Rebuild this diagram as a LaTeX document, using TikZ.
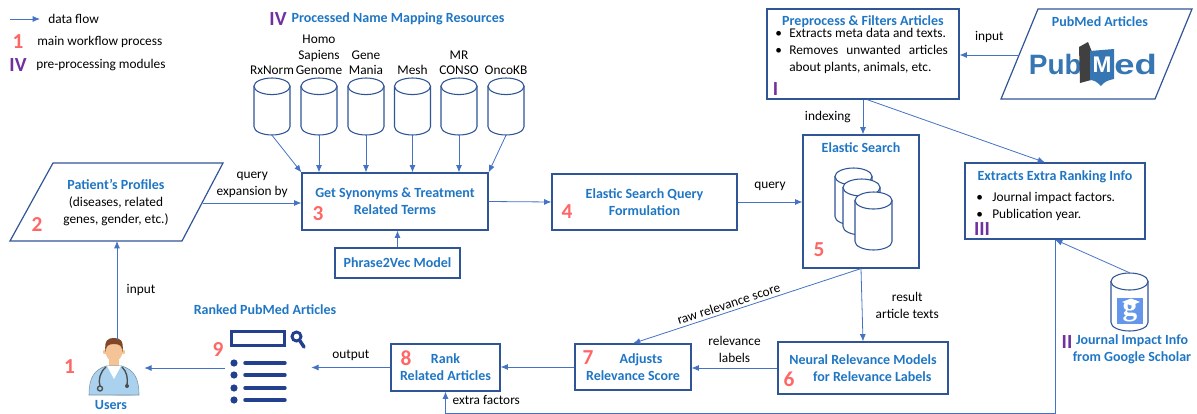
\documentclass[tikz,border=0pt]{standalone}
\usepackage{fontspec}
\setmainfont{Carlito}
\newfontfamily\logofont{Liberation Sans}
\newfontfamily\gsfont{Liberation Serif}
\usetikzlibrary{positioning,arrows.meta,calc}

\definecolor{boxblue}{RGB}{47,85,151}
\definecolor{flowblue}{RGB}{68,114,196}
\definecolor{titleblue}{RGB}{31,118,196}
\definecolor{numred}{RGB}{255,102,102}
\definecolor{modpurple}{RGB}{112,48,160}
\definecolor{pubblue}{RGB}{54,118,178}
\definecolor{iconnavy}{RGB}{35,64,142}
\definecolor{coatblue}{RGB}{170,210,238}
\definecolor{skin}{RGB}{244,196,150}
\definecolor{hair}{RGB}{130,70,40}
\definecolor{gsblue}{RGB}{100,150,235}

\newcommand{\ttlfont}{\fontsize{10.5}{12.75}\selectfont\bfseries\color{titleblue}}
\newcommand{\bul}[1]{\makebox[#1][l]{\textbullet}}
% database cylinder: name, x, y, width, height (in picture units)
\newcommand{\dbcyl}[5]{%
    \pgfmathsetmacro{\cylrx}{#4/2}%
    \pgfmathsetmacro{\cylh}{#5/2}%
    \pgfmathsetmacro{\cylry}{#4*0.23}%
    \pgfmathsetmacro{\cylrxp}{0.375*#4}%
    \pgfmathsetmacro{\cylryp}{0.75*#4*0.23}%
    \filldraw[db] (#2-\cylrx,#3-\cylh+\cylry) -- (#2-\cylrx,#3+\cylh-\cylry)
        arc[start angle=180, end angle=360, x radius=\cylrxp pt, y radius=\cylryp pt]
        -- (#2+\cylrx,#3-\cylh+\cylry) -- cycle;
    \filldraw[db] (#2,#3-\cylh+\cylry) ellipse [x radius=\cylrxp pt, y radius=\cylryp pt];
    \node[minimum width=0.75*#4 pt, minimum height=0.75*#5 pt, inner sep=0pt] (#1) at (#2,#3) {};
}

\begin{document}
\begin{tikzpicture}[x=0.75pt, y=-0.75pt, >={Latex[length=5.5pt,width=4.5pt]},
    box/.style = {draw=boxblue, line width=0.9pt, inner sep=0pt, align=center, font=\ttlfont},
    ttl/.style = {font=\ttlfont, align=center, inner sep=0pt},
    txt/.style = {font=\fontsize{10}{12.75}\selectfont, align=center, inner sep=0pt},
    lbl/.style = {font=\fontsize{10}{11.6}\selectfont, align=center, inner sep=0pt},
    num/.style = {font=\fontsize{16}{16}\selectfont\bfseries, text=numred, inner sep=0pt},
    mod/.style = {font=\fontsize{15}{15}\selectfont\bfseries, text=modpurple, inner sep=0pt},
    db/.style = {draw=boxblue, line width=0.8pt, fill=white},
    flow/.style = {->, draw=flowblue, line width=0.6pt}]
    \useasboundingbox (0,0) rectangle (1197,414);

    % legend
    \coordinate (lg-a) at (10,19);
    \node[txt, anchor=west, inner xsep=6pt] (lg-t) at (40,19) {data flow};
    \draw[flow] (lg-a) -- (lg-t.west);
    \node[num] (lg-1) at (18,42) {1};
    \node[txt, anchor=west] (lg-2) at (37,42) {main workflow process};
    \node[mod] (lg-3) at (18,65) {IV};
    \node[txt, anchor=west] (lg-4) at (36,65) {pre-processing modules};

    % name mapping resources
    \node[mod] (m-iv) at (278,19) {IV};
    \node[ttl] (m-t) at (398,19) {Processed Name Mapping Resources};
    \dbcyl{rx}{272}{106.5}{36}{57}
    \dbcyl{hsg}{319}{106.5}{36}{57}
    \dbcyl{gm}{366}{106.5}{36}{57}
    \dbcyl{mesh}{412.5}{106.5}{36}{57}
    \dbcyl{mrc}{459}{106.5}{36}{57}
    \dbcyl{onc}{506}{106.5}{36}{57}
    \node[lbl, above=2pt of rx] (rx-l) {RxNorm};
    \node[lbl, above=2pt of hsg] (hsg-l) {Homo\\Sapiens\\Genome};
    \node[lbl, above=2pt of gm] (gm-l) {Gene\\Mania};
    \node[lbl, above=2pt of mesh] (mesh-l) {Mesh};
    \node[lbl, above=2pt of mrc] (mrc-l) {MR\\CONSO};
    \node[lbl, above=2pt of onc] (onc-l) {OncoKB};

    % main boxes
    \node[box, minimum width=139.5pt, minimum height=42.75pt] (syn) at (395,201.5) {Get Synonyms \& Treatment\\Related Terms};
    \node[box, minimum width=93.75pt, minimum height=22.5pt] (p2v) at (397.5,263) {Phrase2Vec Model};
    \node[box, minimum width=138.75pt, minimum height=42pt] (efq) at (644.5,202) {Elastic Search Query\\Formulation};
    \node[box, minimum width=87pt, minimum height=99.75pt] (es) at (861,201.5) {};
    \node[ttl] (es-t) at (861,148) {Elastic Search};
    \dbcyl{es-a}{853.5}{196.5}{37}{57}
    \dbcyl{es-b}{861.5}{207}{37}{56}
    \dbcyl{es-c}{873.5}{221}{37}{58}
    \node[box, minimum width=127.5pt, minimum height=39pt] (neu) at (863,368) {Neural Relevance Models\\\hspace*{14pt}for Relevance Labels};
    \node[box, minimum width=87pt, minimum height=34.5pt] (adj) at (633,367) {\hspace*{12pt}Adjusts\\Relevance Score};
    \node[box, minimum width=81.75pt, minimum height=35.25pt] (rank) at (445.5,367.5) {Rank\\Related Articles};

    % preprocess box
    \node[box, minimum width=144pt, minimum height=67.5pt] (pre) at (863,54) {};
    \node[ttl] (pre-t) at (863,22) {Preprocess \& Filters Articles};
    \node[txt, align=left, anchor=west] (pre-b) at (775,51) {\bul{10.5pt}Extracts meta data and texts.\\\bul{10.5pt}\makebox[119pt][s]{Removes unwanted articles}\\\hspace*{10.5pt}about plants, animals, etc.};
    \node[mod] (pre-i) at (775.5,89.5) {I};

    % extra ranking info box
    \node[box, minimum width=135pt, minimum height=57pt] (ext) at (1055,201) {};
    \node[ttl] (ext-t) at (1055,177) {Extracts Extra Ranking Info};
    \node[txt, align=left, anchor=west] (ext-b) at (976,206) {\bul{12pt}Journal impact factors.\\\bul{12pt}Publication year.};
    \node[mod] (ext-i) at (982,229) {III};

    % patient profiles
    \draw[draw=boxblue, line width=0.9pt] (53,163) -- (223,163) -- (182,241) -- (10,241) -- cycle;
    \node[txt] (pat) at (116,203) {{\ttlfont Patient’s Profiles}\\(diseases, related\\genes, gender, etc.)};
    \coordinate (pat-e) at (203,203);
    \coordinate (pat-s) at (117,241);

    % pubmed articles
    \draw[draw=boxblue, line width=0.9pt] (1038,9) -- (1192,9) -- (1155,99) -- (1001,99) -- cycle;
    \node[ttl] (pm-t) at (1100,22) {PubMed Articles};
    \coordinate (pm-w) at (1019,55);
    \node[anchor=east, inner sep=0pt, text=pubblue, font=\logofont\fontsize{21}{21}\selectfont\bfseries] (pm-l1) at (1082,64) {Pub};
    \fill[black!75] (1079,47) -- (1088,42) -- (1092,52) -- (1091,80) -- (1080,83) -- cycle;
    \fill[pubblue] (1090,51) -- (1114,49) -- (1114,79) .. controls (1108,80) and (1104,82) .. (1101,86) .. controls (1097,82) and (1094,80) .. (1090,80) -- cycle;
    \node[inner sep=0pt, text=white, font=\logofont\fontsize{17}{17}\selectfont\bfseries] (pm-l2) at (1102,65) {M};
    \node[anchor=west, inner sep=0pt, text=pubblue, font=\logofont\fontsize{21}{21}\selectfont\bfseries] (pm-l3) at (1114,64) {\scalebox{1.3}[1]{ed}};

    % google scholar
    \dbcyl{gs}{1129.5}{302}{37}{58}
    \node[fill=gsblue, minimum size=19.5pt, inner sep=0pt, text=white, font=\gsfont\fontsize{22}{22}\selectfont\bfseries] (gs-g) at (1130,311) {g};
    \fill[white] (1122,302) -- (1131,298.5) -- (1140,302) -- (1131,305.5) -- cycle;
    \node[mod] (gs-i) at (1067,342) {II};
    \node[ttl] (gs-t) at (1132,349.5) {Journal Impact Info\\from Google Scholar};

    % users
    \fill[gray!30] (124,393) ellipse (16 and 3);
    \fill[skin] (109,357) rectangle (119,368);
    \filldraw[fill=coatblue, draw=coatblue!70!black, line width=0.4pt] (89,395) .. controls (89,378) and (94,370) .. (106,366) -- (122,366) .. controls (134,370) and (139,378) .. (139,395) -- cycle;
    \fill[white] (107,366) -- (114,379) -- (121,366) -- cycle;
    \fill[skin] (105,352) circle (2.2);
    \fill[skin] (123,352) circle (2.2);
    \fill[skin] (114,351) ellipse (8.5 and 10.5);
    \fill[hair] (105.5,352) .. controls (104,340) and (108,338) .. (114,338) .. controls (120,338) and (124,340) .. (122.5,352) .. controls (122,346) and (120,344) .. (114,344) .. controls (108,344) and (106,346) .. (105.5,352) -- cycle;
    \draw[black!70, line width=1pt] (106,367) .. controls (100,372) and (98,380) .. (100,386);
    \draw[black!70, line width=1pt] (100,388.5) circle (2.5);
    \draw[black!70, line width=1pt] (122,367) .. controls (127,372) and (128,378) .. (127,385);
    \fill[black!70] (127,386) circle (2);
    \node[minimum width=40.5pt, minimum height=40.5pt, inner sep=0pt] (usr) at (117,367) {};
    \node[ttl] (usr-t) at (111,405) {Users};

    % ranked articles icon
    \node[ttl] (lst-t) at (265,310) {Ranked PubMed Articles};
    \node[minimum width=64.5pt, minimum height=56pt, inner sep=0pt] (lst) at (268,368) {};
    \draw[iconnavy, line width=2.3pt] (231.5,331.5) rectangle (284.5,345.5);
    \draw[iconnavy, line width=2.2pt] (296.5,336.5) circle (4.5);
    \draw[iconnavy, line width=2.6pt, line cap=round] (300,341) -- (304,347);
    \fill[iconnavy] (234,363) circle (3.6);
    \fill[iconnavy] (234,375) circle (3.6);
    \fill[iconnavy] (234,388) circle (3.6);
    \fill[iconnavy] (234,400) circle (3.6);
    \draw[iconnavy, line width=2.6pt, line cap=round] (245,363) -- (285,363);
    \draw[iconnavy, line width=2.6pt, line cap=round] (245,375) -- (285,375);
    \draw[iconnavy, line width=2.6pt, line cap=round] (245,388) -- (285,388);
    \draw[iconnavy, line width=2.6pt, line cap=round] (245,400) -- (285,400);

    % step numbers
    \node[num] (n1) at (69.5,367) {1};
    \node[num] (n2) at (37,225) {2};
    \node[num] (n3) at (318,214) {3};
    \node[num] (n4) at (567,212) {4};
    \node[num] (n5) at (819,250) {5};
    \node[num] (n6) at (789,379) {6};
    \node[num] (n7) at (588,358) {7};
    \node[num] (n8) at (406,358) {8};
    \node[num] (n9) at (218,350) {9};

    % data flow
    \draw[flow] (rx.south) -- (syn.north west);
    \draw[flow] (hsg.south) -- (hsg.south |- syn.north);
    \draw[flow] (gm.south) -- (gm.south |- syn.north);
    \draw[flow] (mesh.south) -- (mesh.south |- syn.north);
    \draw[flow] (mrc.south) -- (mrc.south |- syn.north);
    \draw[flow] (onc.south) -- (syn.north east);
    \draw[flow] (p2v.north) -- (p2v.north |- syn.south);
    \draw[flow] (usr.north) -- node[txt, midway, right=7pt] {input} (pat-s);
    \draw[flow] (pat-e) -- node[txt, midway, above=4pt] {query\\expansion by} (pat-e -| syn.west);
    \draw[flow] (syn.east) -- (efq.west);
    \draw[flow] (efq.east) -- node[txt, midway, above=8pt] {query} (efq.east -| es.west);
    \draw[flow] (pm-w) -- node[txt, midway, above=9pt] {input} (pm-w -| pre.east);
    \draw[flow] (pre.south) -- node[txt, midway, left=9pt] {indexing} (pre.south |- es.north);
    \draw[flow] ($(pre.south)+(4,0)$) -- ($(ext.north)+(-10,0)$);
    \draw[flow] (es.south) -- node[txt, midway, right=10pt] {result\\article texts} (neu.north);
    \draw[flow] (es.south) -- node[txt, pos=0.57, sloped, above=2pt] {raw relevance score} (adj.north);
    \draw[flow] (neu.west) -- node[txt, midway, above=4pt] {relevance\\labels} (neu.west -| adj.east);
    \draw[flow] (adj.west) -- (adj.west -| rank.east);
    \draw[flow] (rank.west) -- node[txt, midway, above=5pt] {output} (rank.west -| lst.east);
    \draw[flow] (lst.west) -- (lst.west -| usr.east);
    \draw[flow] (gs.north) -- (ext.south);
    \coordinate (xf) at (1055,413);
    \draw[flow] (ext.south) -- (xf) -| node[txt, pos=0.8, right=5pt] {extra factors} (rank.south);
\end{tikzpicture}
\end{document}
